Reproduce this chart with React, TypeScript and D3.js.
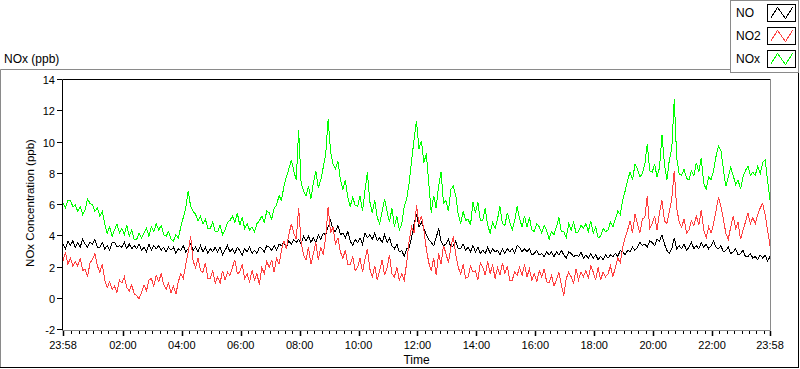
import React from "react";
import * as d3 from "d3";

// Series sampled every 5 minutes from 23:58 to 23:58 (next day), ppb
const NO = [
  3.5, 3.2, 3.7, 3.4, 3.7, 3.3, 3.6, 3.3, 3.8, 3.5, 3.3, 3.6, 3.5, 3.8, 3.3, 3.3, 3.6, 3.2,
  3.4, 3.1, 3.6, 3.6, 3.3, 3.4, 3.3, 3.6, 3.2, 3.5, 3.2, 3.4, 3.2, 3.5, 3.1, 3.3, 3.0, 3.5,
  3.1, 3.4, 3.2, 3.4, 3.1, 3.3, 3.0, 3.3, 3.1, 3.3, 2.9, 3.2, 3.1, 3.4, 3.0, 3.2, 3.5, 3.1,
  3.3, 3.0, 3.4, 3.0, 3.3, 2.9, 3.2, 3.0, 3.3, 3.0, 3.3, 2.8, 3.1, 3.4, 3.0, 3.2, 2.9, 3.3,
  3.1, 2.8, 3.2, 3.0, 3.3, 2.9, 3.1, 2.9, 3.3, 3.2, 3.0, 3.4, 3.3, 3.1, 3.4, 3.1, 3.5, 3.4,
  3.6, 3.3, 3.7, 3.5, 3.8, 3.6, 3.8, 3.5, 4.0, 3.7, 4.0, 3.6, 3.9, 3.6, 4.1, 3.8, 4.2, 4.1,
  4.6, 5.0, 4.4, 4.3, 4.7, 4.1, 4.2, 3.9, 4.3, 3.7, 3.4, 3.8, 3.6, 3.9, 3.5, 4.2, 3.9, 4.1,
  3.8, 4.2, 3.7, 3.9, 3.6, 4.1, 3.6, 3.9, 3.4, 3.2, 3.5, 3.0, 3.1, 2.7, 3.2, 3.3, 3.9, 4.8,
  5.4, 4.6, 4.9, 4.5, 4.1, 3.8, 3.6, 3.4, 3.9, 4.5, 3.7, 3.4, 3.5, 3.8, 3.3, 3.4, 3.7, 3.2,
  3.2, 3.5, 3.1, 3.3, 3.0, 3.4, 3.0, 3.3, 2.9, 3.1, 2.9, 3.3, 2.9, 3.2, 3.0, 3.1, 2.8, 3.2,
  2.9, 3.2, 3.0, 3.2, 2.9, 3.4, 3.3, 3.0, 3.2, 3.0, 3.2, 2.8, 2.9, 3.1, 2.8, 2.9, 2.7, 3.0,
  2.8, 3.0, 2.7, 3.0, 2.8, 3.1, 2.8, 2.6, 3.0, 2.9, 2.7, 2.8, 2.7, 3.0, 2.6, 2.8, 2.6, 2.9,
  2.6, 2.8, 2.5, 2.7, 2.5, 2.8, 2.6, 2.8, 2.7, 2.9, 2.7, 3.1, 3.0, 2.8, 3.1, 3.0, 3.3, 3.1,
  3.3, 3.6, 3.4, 3.5, 3.3, 3.7, 3.6, 3.4, 3.8, 3.7, 4.1, 3.5, 3.1, 2.9, 3.2, 3.9, 3.2, 3.4,
  3.2, 3.5, 3.1, 3.3, 3.6, 3.2, 3.4, 3.2, 3.6, 3.3, 3.5, 3.2, 3.4, 3.7, 3.3, 3.2, 3.4, 3.0,
  3.1, 3.3, 2.9, 3.0, 3.2, 2.8, 2.9, 3.1, 2.7, 2.7, 2.9, 2.6, 2.7, 2.5, 2.8, 2.6, 2.8, 2.4,
  2.7,
];

const NO2 = [
  2.4, 3.0, 2.2, 2.6, 2.1, 2.4, 2.1, 2.6, 1.8, 1.9, 1.4, 2.3, 2.5, 2.9, 2.1, 1.7, 2.2, 1.2,
  0.7, 1.1, 0.6, 0.8, 0.4, 1.2, 1.0, 1.4, 0.7, 0.5, 0.9, 0.3, 0.2, 0.0, 0.4, 0.9, 0.5, 1.2,
  1.3, 0.8, 1.5, 1.1, 1.6, 0.9, 0.6, 1.0, 0.4, 0.8, 0.3, 1.1, 1.6, 1.3, 2.2, 3.0, 4.0, 2.4,
  2.0, 2.6, 1.8, 1.7, 2.3, 1.3, 1.3, 1.8, 1.0, 1.4, 1.0, 1.8, 1.2, 1.7, 1.5, 2.0, 2.5, 1.6,
  1.7, 2.2, 1.3, 1.6, 1.1, 1.8, 1.2, 1.6, 0.9, 2.0, 1.6, 2.4, 2.0, 2.5, 1.7, 2.6, 2.2, 3.1,
  3.7, 3.2, 4.1, 4.8, 4.2, 3.8, 5.8, 3.6, 2.8, 2.5, 3.3, 2.2, 2.9, 3.6, 2.5, 3.3, 2.8, 3.9,
  5.9, 4.2, 4.6, 3.5, 3.9, 3.0, 2.6, 3.1, 2.2, 2.2, 2.7, 1.8, 2.0, 2.6, 1.7, 2.5, 3.2, 1.9,
  1.4, 2.1, 1.2, 1.8, 2.5, 1.5, 2.0, 2.8, 1.6, 1.4, 2.0, 1.2, 1.6, 1.2, 2.3, 3.7, 4.6, 4.2,
  6.0, 4.8, 5.3, 4.4, 3.2, 2.3, 1.8, 2.6, 1.5, 2.9, 2.2, 3.4, 2.9, 2.3, 3.3, 4.0, 2.8, 2.0,
  1.6, 2.2, 1.3, 1.4, 2.1, 1.7, 1.8, 1.2, 2.3, 2.0, 1.5, 2.4, 1.6, 2.2, 1.3, 2.0, 1.5, 2.3,
  1.6, 2.1, 1.2, 1.2, 1.7, 1.5, 2.0, 1.5, 2.2, 1.4, 1.9, 1.2, 1.6, 1.1, 1.8, 1.4, 1.9, 1.1,
  1.0, 1.5, 0.8, 1.2, 1.7, 0.9, 0.2, 1.3, 1.7, 1.4, 1.0, 1.9, 1.2, 1.7, 1.4, 1.8, 1.3, 2.1,
  1.7, 1.2, 2.0, 1.2, 1.7, 1.4, 1.6, 2.1, 1.4, 2.0, 2.6, 2.3, 3.3, 3.9, 4.4, 5.0, 4.2, 5.4,
  4.8, 4.2, 5.1, 5.2, 6.6, 4.5, 4.8, 5.3, 4.4, 5.5, 6.3, 5.0, 4.8, 5.6, 6.4, 8.2, 5.8, 4.9,
  4.6, 5.1, 4.2, 4.4, 5.0, 4.7, 5.3, 4.7, 5.7, 4.4, 3.9, 4.6, 4.2, 4.8, 5.6, 6.5, 5.9, 5.1,
  4.2, 3.8, 4.6, 5.3, 4.5, 4.9, 3.8, 4.4, 4.9, 5.5, 4.8, 5.2, 4.8, 5.4, 5.8, 6.1, 5.4, 4.4,
  3.4,
];

const NOX = [
  6.1, 5.8, 6.3, 6.3, 5.9, 6.0, 5.6, 5.9, 5.4, 5.7, 6.4, 6.1, 6.0, 5.6, 5.8, 5.3, 5.6, 4.8,
  4.2, 4.6, 4.0, 4.4, 4.8, 4.2, 4.5, 4.1, 4.7, 4.0, 4.4, 3.8, 3.8, 4.2, 3.9, 4.2, 4.5, 4.0,
  4.6, 4.3, 4.8, 4.4, 4.7, 4.1, 4.0, 4.3, 3.8, 3.7, 4.1, 3.9, 4.6, 5.2, 5.8, 6.9, 5.9, 5.6,
  5.4, 5.0, 5.3, 4.8, 5.1, 4.5, 4.5, 4.9, 4.3, 4.3, 4.7, 4.1, 4.4, 4.9, 5.0, 5.3, 4.9, 5.5,
  4.7, 5.2, 4.5, 4.8, 4.4, 4.6, 4.3, 4.8, 5.0, 5.3, 4.9, 5.6, 5.5, 5.1, 5.8, 6.0, 6.6, 6.3,
  7.2, 7.8, 8.3, 8.9, 8.2, 7.6, 10.8, 7.4, 6.9, 6.6, 7.2, 6.4, 7.4, 8.2, 7.1, 7.6, 8.4, 9.2,
  11.5, 9.4, 8.6, 8.3, 8.8, 7.6, 7.0, 7.6, 6.5, 5.9, 6.5, 6.0, 5.9, 6.6, 5.6, 6.9, 8.1, 6.2,
  5.5, 6.3, 5.2, 4.8, 5.6, 6.4, 5.6, 4.9, 5.8, 4.6, 5.3, 4.4, 4.8, 5.9, 6.4, 7.4, 8.8, 10.2,
  11.4, 9.6, 10.1, 8.7, 9.3, 7.4, 5.5, 6.6, 5.8, 7.2, 8.1, 6.1, 6.3, 5.6, 7.0, 7.2, 6.6, 5.4,
  4.8, 5.6, 5.0, 5.1, 4.7, 6.2, 5.5, 6.2, 5.0, 5.0, 5.8, 4.7, 4.2, 4.9, 4.5, 5.1, 5.9, 4.8,
  4.7, 5.5, 4.9, 4.4, 5.0, 5.9, 5.1, 4.6, 5.3, 4.6, 5.2, 4.4, 4.3, 4.8, 4.6, 4.2, 4.7, 4.4,
  3.8, 4.3, 4.1, 4.6, 5.2, 4.3, 4.3, 3.9, 4.8, 4.4, 4.9, 4.2, 4.3, 4.7, 4.5, 4.8, 4.3, 5.0,
  4.2, 4.6, 3.9, 4.0, 4.5, 4.3, 4.4, 4.9, 4.6, 5.1, 5.6, 5.4, 6.3, 6.9, 7.6, 8.1, 7.6, 8.6,
  8.3, 7.8, 8.0, 8.6, 9.9, 8.2, 8.1, 8.6, 7.8, 8.4, 10.5, 8.6, 7.6, 8.9, 9.6, 12.8, 9.0, 8.0,
  7.9, 8.3, 7.7, 7.6, 8.2, 7.9, 8.7, 8.1, 9.0, 7.4, 7.0, 7.8, 7.6, 8.2, 9.1, 9.8, 9.5, 8.3,
  7.2, 7.8, 8.4, 7.9, 7.3, 7.6, 7.0, 7.8, 8.2, 8.5, 7.9, 8.1, 7.9, 8.5, 8.0, 8.7, 8.9, 7.6,
  6.3,
];

const SERIES_NAMES = ["NO", "NO2", "NOx"];
const SERIES_COLORS = ["#000000", "#ff4040", "#00ff00"];
const Y_TICKS = [-2, 0, 2, 4, 6, 8, 10, 12, 14];
const X_LABEL_HOURS = [2, 4, 6, 8, 10, 12, 14, 16, 18, 20, 22];
const STEP_MIN = 5;

const START = new Date(2000, 0, 1, 23, 58);
const END = new Date(2000, 0, 2, 23, 58);

const FONT = '"Liberation Sans", Arial, sans-serif';

export default function App() {
  const L = 63, R = 770, T = 80, B = 330;
  const x = d3.scaleTime().domain([START, END]).range([L, R]);
  const y = d3.scaleLinear().domain([-2, 14]).range([B, T]);
  const fmt = d3.timeFormat("%H:%M");

  const line = d3
    .line<number>()
    .x((_, i) => x(new Date(START.getTime() + i * STEP_MIN * 60000)))
    .y((d) => y(d));

  const majors: Date[] = [START, ...X_LABEL_HOURS.map((h) => new Date(2000, 0, 2, h, 0)), END];
  const minors = d3.timeMinute
    .every(15)!
    .range(START, END)
    .filter((d) => majors.every((m) => Math.abs(m.getTime() - d.getTime()) > 3 * 60000));

  const series = [NO, NO2, NOX];

  return (
    <svg
      width={800}
      height={369}
      style={{ position: "absolute", left: 0, top: 0, fontFamily: FONT }}
    >
      <rect x={0} y={0} width={800} height={369} fill="#ffffff" />
      {/* outer frame */}
      <line x1={0.5} y1={69.5} x2={730} y2={69.5} stroke="#8a8a8a" />
      <line x1={0.5} y1={69.5} x2={0.5} y2={367.5} stroke="#8a8a8a" />
      <line x1={0} y1={367.5} x2={798.5} y2={367.5} stroke="#000" />
      <line x1={798.5} y1={72} x2={798.5} y2={368} stroke="#000" />

      <text x={4} y={63} fontSize={12} fill="#000">NOx (ppb)</text>

      {/* legend */}
      <rect x={730.5} y={0.5} width={68} height={72} fill="#fff" stroke="#8a8a8a" />
      {SERIES_NAMES.map((n, i) => {
        const sy = 4.5 + i * 23;
        const sx = 767.5;
        const w = 28, h = 17;
        return (
          <g key={n}>
            <text x={736} y={17 + i * 23} fontSize={12} fill="#000">{n}</text>
            <rect x={sx} y={sy} width={w} height={h} fill="#fff" stroke="#000" />
            <polyline
              points={`${sx + 3},${sy + h - 3} ${sx + 10},${sy + 3} ${sx + 18},${sy + h - 3} ${sx + 25},${sy + 3}`}
              fill="none"
              stroke={SERIES_COLORS[i]}
              strokeWidth={1}
              shapeRendering="crispEdges"
            />
          </g>
        );
      })}

      {/* plot area */}
      <rect x={L} y={T} width={R - L} height={B - T} fill="#fff" />
      <g shapeRendering="crispEdges">
        {series.map((s, i) => (
          <path key={i} d={line(s) || ""} fill="none" stroke={SERIES_COLORS[i]} strokeWidth={1} />
        ))}
      </g>
      <line x1={R + 0.5} y1={T} x2={R + 0.5} y2={B + 0.5} stroke="#8a8a8a" />
      <line x1={L} y1={B + 0.5} x2={R + 0.5} y2={B + 0.5} stroke="#8a8a8a" />
      <line x1={L - 0.5} y1={T - 0.5} x2={R + 0.5} y2={T - 0.5} stroke="#000" />
      <line x1={L - 0.5} y1={T - 0.5} x2={L - 0.5} y2={B + 0.5} stroke="#000" />

      {/* y axis */}
      {Y_TICKS.map((v) => (
        <g key={v}>
          <line x1={L - 6} y1={Math.round(y(v)) - 0.5} x2={L - 1} y2={Math.round(y(v)) - 0.5} stroke="#000" />
          <text x={L - 8} y={Math.round(y(v)) + 3.5} fontSize={11} textAnchor="end" fill="#000">{v}</text>
        </g>
      ))}
      <text
        transform={`translate(34,203) rotate(-90)`}
        fontSize={11.5}
        textAnchor="middle"
        fill="#000"
      >
        NOx Concentration (ppb)
      </text>

      {/* x axis */}
      {minors.map((d, i) => (
        <line key={"m" + i} x1={Math.round(x(d)) + 0.5} y1={B + 1} x2={Math.round(x(d)) + 0.5} y2={B + 4} stroke="#000" />
      ))}
      {majors.map((d, i) => (
        <g key={"M" + i}>
          <line x1={Math.round(x(d)) + 0.5} y1={B + 1} x2={Math.round(x(d)) + 0.5} y2={B + 6} stroke="#000" strokeWidth={1.5} />
          <text x={x(d)} y={348.5} fontSize={11} textAnchor="middle" fill="#000">{fmt(d)}</text>
        </g>
      ))}
      <text x={(L + R) / 2} y={364} fontSize={12} textAnchor="middle" fill="#000">Time</text>
    </svg>
  );
}
